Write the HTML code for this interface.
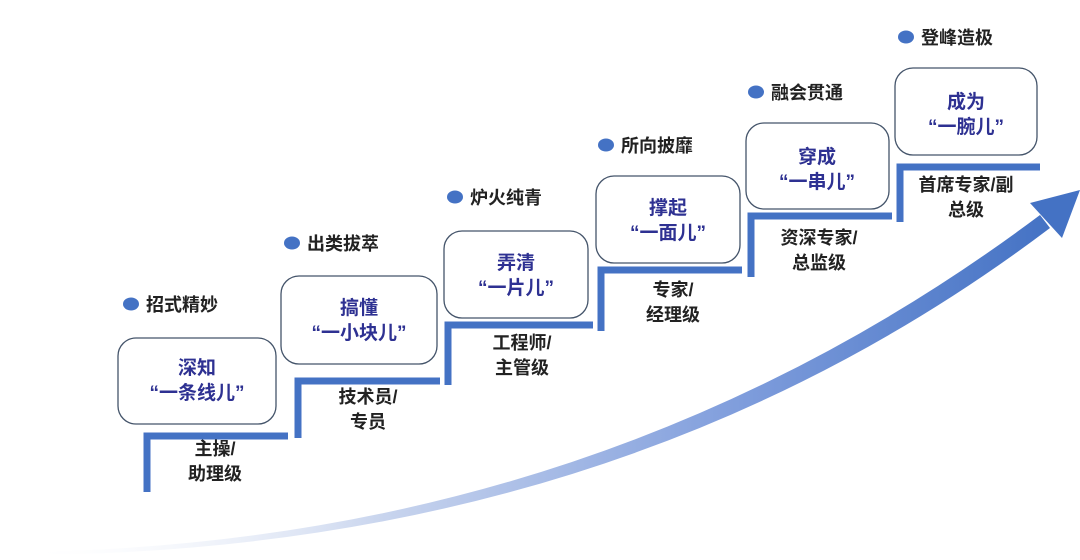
<!DOCTYPE html>
<html><head><meta charset="utf-8"><style>
html,body{margin:0;padding:0;background:#fff;}
svg text{font-family:"Liberation Sans","Noto Sans CJK SC",sans-serif;font-weight:bold;}
</style></head><body>
<svg width="1080" height="555" viewBox="0 0 1080 555" xmlns="http://www.w3.org/2000/svg">
<defs>
<linearGradient id="g" x1="0" y1="0" x2="1" y2="0">
<stop offset="0" stop-color="#ffffff" stop-opacity="0"/>
<stop offset="0.35" stop-color="#c9d5ee"/>
<stop offset="0.7" stop-color="#7f9ddc"/>
<stop offset="1" stop-color="#4472c4"/>
</linearGradient>
</defs>
<path d="M20,552 Q600,545 1040,215 L1050,228 Q620,553 20,555 Z" fill="url(#g)"/>
<polygon points="1080,190 1030,203 1062,238" fill="#4472c4"/>
<g fill="none" stroke="#4472c4" stroke-width="7">
<polyline points="147,492 147,436 288,436"/>
<polyline points="298,438 298,381 440,381"/>
<polyline points="448,385 448,325 593,325"/>
<polyline points="601,331 601,270 742,270"/>
<polyline points="751,277 751,216 892,216"/>
<polyline points="900,222 900,167 1040,167"/>
</g>
<g fill="#fff" stroke="#44546a" stroke-width="1.3">
<rect x="118" y="338" width="158" height="86" rx="18"/>
<rect x="281" y="276" width="156" height="88" rx="18"/>
<rect x="444" y="231" width="144" height="87" rx="18"/>
<rect x="596" y="176" width="144" height="87" rx="18"/>
<rect x="746" y="123" width="143" height="86" rx="18"/>
<rect x="895" y="68" width="142" height="87" rx="18"/>
</g>
<g fill="#2e3192" font-size="19" text-anchor="middle">
<text x="197" y="374">深知</text><text x="197" y="399">“一条线儿”</text>
<text x="359" y="314">搞懂</text><text x="359" y="339">“一小块儿”</text>
<text x="516" y="269">弄清</text><text x="516" y="294">“一片儿”</text>
<text x="668" y="214">撑起</text><text x="668" y="239">“一面儿”</text>
<text x="817" y="163">穿成</text><text x="817" y="188">“一串儿”</text>
<text x="966" y="108">成为</text><text x="966" y="133">“一腕儿”</text>
</g>
<g fill="#4472c4">
<ellipse cx="131" cy="304" rx="8" ry="6.5"/>
<ellipse cx="292" cy="243" rx="8" ry="6.5"/>
<ellipse cx="455" cy="197" rx="8" ry="6.5"/>
<ellipse cx="606" cy="145" rx="8" ry="6.5"/>
<ellipse cx="756" cy="92" rx="8" ry="6.5"/>
<ellipse cx="906" cy="37" rx="8" ry="6.5"/>
</g>
<g fill="#222" font-size="18">
<text x="146" y="311">招式精妙</text>
<text x="307" y="250">出类拔萃</text>
<text x="470" y="204">炉火纯青</text>
<text x="621" y="152">所向披靡</text>
<text x="771" y="99">融会贯通</text>
<text x="921" y="44">登峰造极</text>
</g>
<g fill="#222" font-size="18" text-anchor="middle">
<text x="215" y="455">主操/</text><text x="215" y="480">助理级</text>
<text x="368" y="403">技术员/</text><text x="368" y="428">专员</text>
<text x="522" y="349">工程师/</text><text x="522" y="374">主管级</text>
<text x="673" y="296">专家/</text><text x="673" y="321">经理级</text>
<text x="819" y="244">资深专家/</text><text x="819" y="269">总监级</text>
<text x="966" y="191">首席专家/副</text><text x="966" y="216">总级</text>
</g>
</svg>
</body></html>
